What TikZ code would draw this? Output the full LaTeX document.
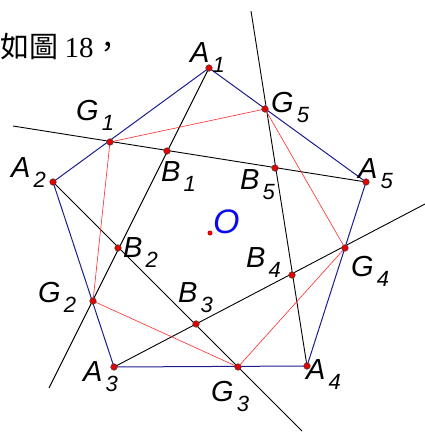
\documentclass[tikz,border=0pt]{standalone}
\usepackage{fontspec}
\setmainfont{Liberation Serif}
\newfontfamily\cjk{Noto Sans CJK TC}
\newfontfamily\arial{Liberation Sans}
\usepackage{xcolor}
\usepackage{tikz}
\usetikzlibrary{positioning,calc}
\definecolor{cmarino}{HTML}{1C1C8E}
\definecolor{cescarlata}{HTML}{FF2A2A}
\definecolor{cpunto}{HTML}{E60000}
\definecolor{cazulo}{HTML}{0A0AF0}
\newcommand{\rot}[2]{{\arial\itshape\fontsize{29}{29}\selectfont #1\kern3pt\raisebox{-10pt}{\fontsize{22}{22}\selectfont #2}}}
\tikzset{
  lado/.style={draw=cmarino, line width=1pt},
  recta/.style={draw=black, line width=0.9pt},
  interior/.style={draw=cescarlata, line width=0.6pt},
  punto/.style={circle, fill=cpunto, draw=black!75, line width=0.5pt,
    inner sep=0pt, minimum size=6.6pt},
  etq/.style={inner sep=0pt, anchor=base west},
}

\begin{document}
\begin{tikzpicture}[x=1pt, y=-1pt]
  \useasboundingbox (0,0) rectangle (425,432);
  % vertices, points on the sides, intersections
  \coordinate (A1) at (209,68);
  \coordinate (A2) at (53,182);
  \coordinate (A3) at (114,367);
  \coordinate (A4) at (307,366);
  \coordinate (A5) at (366,182);
  \coordinate (G1) at (110,142);
  \coordinate (G2) at (93,301);
  \coordinate (G3) at (238,367);
  \coordinate (G4) at (345,248);
  \coordinate (G5) at (265,109);
  \coordinate (B1) at (167,151);
  \coordinate (B2) at (118,248);
  \coordinate (B3) at (196,324);
  \coordinate (B4) at (292,275);
  \coordinate (B5) at (275,168);
  \coordinate (O) at (210,233);
  % free ends of the lines
  \coordinate (e1) at (13,126);
  \coordinate (e2) at (49,388);
  \coordinate (e3) at (251,11);
  \coordinate (e4) at (425,204);
  \coordinate (e5) at (302,431);

  \draw[recta] (A5) -- (e1);
  \draw[recta] (A1) -- (e2);
  \draw[recta] (A4) -- (e3);
  \draw[recta] (A3) -- (e4);
  \draw[recta] (A2) -- (e5);
  \draw[interior] (G1) -- (G5) -- (G4) -- (G3) -- (G2) -- cycle;
  \draw[lado] (A1) -- (A2) -- (A3) -- (A4) -- (A5) -- cycle;

  \foreach \p in {A1,A2,A3,A4,A5,G1,G2,G3,G4,G5,B1,B2,B3,B4,B5}
    \node[punto] at (\p) {};
  \fill[cpunto] (O) circle (2.5);

  \node[etq] (lA1) at (190,62) {\rot{A}{1}};
  \node[etq] (lA2) at (11,177) {\rot{A}{2}};
  \node[etq] (lA3) at (83,381) {\rot{A}{3}};
  \node[etq] (lA4) at (306,379) {\rot{A}{4}};
  \node[etq] (lA5) at (358,178) {\rot{A}{5}};
  \node[etq] (lG1) at (76,120) {\rot{G}{1}};
  \node[etq] (lG2) at (38,302) {\rot{G}{2}};
  \node[etq] (lG3) at (211,401) {\rot{G}{3}};
  \node[etq] (lG4) at (351,276) {\rot{G}{4}};
  \node[etq] (lG5) at (271,112) {\rot{G}{5}};
  \node[etq] (lB1) at (161,181) {\rot{B}{1}};
  \node[etq] (lB2) at (123,257) {\rot{B}{2}};
  \node[etq] (lB3) at (178,302) {\rot{B}{3}};
  \node[etq] (lB4) at (246,267) {\rot{B}{4}};
  \node[etq] (lB5) at (240,189) {\rot{B}{5}};
  \node[etq, text=cazulo] (lO) at (213,233) {\arial\itshape\fontsize{34}{34}\selectfont O};
  \node[etq] (titulo) at (0,57) {\fontsize{29}{29}\selectfont\cjk 如圖\ {\rmfamily 18}，};
\end{tikzpicture}
\end{document}
